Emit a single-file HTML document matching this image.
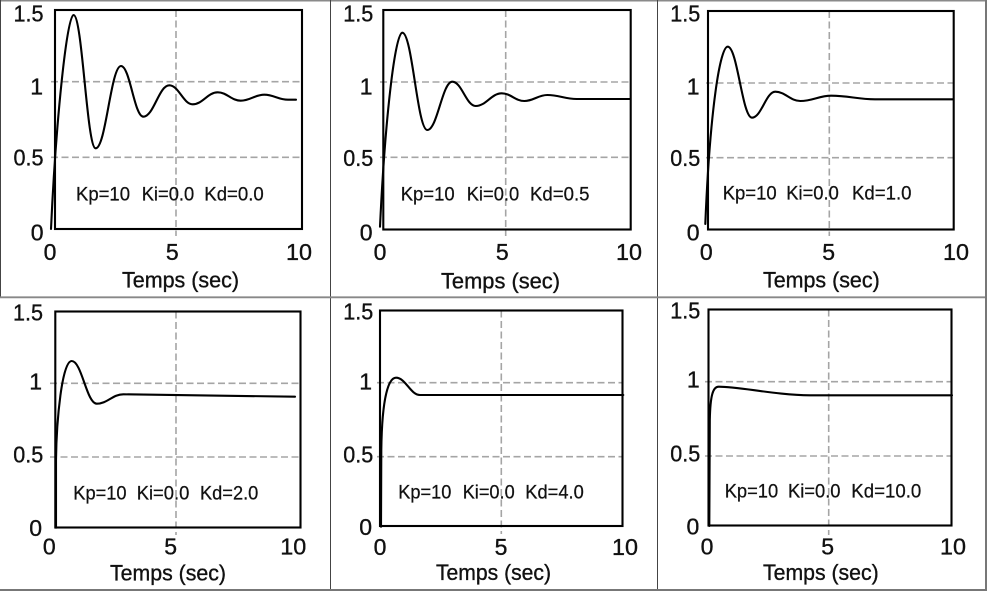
<!DOCTYPE html>
<html>
<head>
<meta charset="utf-8">
<style>
  html, body { margin: 0; padding: 0; background: #fff; }
  svg { display: block; }
  .tk { font-family: "Liberation Sans", "DejaVu Sans", sans-serif; font-size: 23px; fill: #111; stroke: #111; stroke-width: 0.35; }
  .lb { font-family: "Liberation Sans", "DejaVu Sans", sans-serif; font-size: 22px; fill: #111; stroke: #111; stroke-width: 0.35; }
  .an { font-family: "Liberation Sans", "DejaVu Sans", sans-serif; font-size: 19.5px; fill: #111; stroke: #111; stroke-width: 0.25; }
  .grid { stroke: #a5a5a5; stroke-width: 1.6; stroke-dasharray: 7 3.5; fill: none; }
  .box { stroke: #000; stroke-width: 2.1; fill: none; }
  .crv { stroke: #000; stroke-width: 2.1; fill: none; stroke-linejoin: round; stroke-linecap: round; }
</style>
</head>
<body>
<svg width="987" height="591" viewBox="0 0 987 591" xmlns="http://www.w3.org/2000/svg">
  <rect x="0" y="0" width="987" height="591" fill="#fff"/>

  <!-- cell separators -->
  <line x1="0" y1="0.75" x2="987" y2="0.75" stroke="#8a8a8a" stroke-width="1.5"/>
  <line x1="0.5" y1="0" x2="0.5" y2="297" stroke="#444" stroke-width="1"/>
  <line x1="330.5" y1="0" x2="330.5" y2="591" stroke="#444" stroke-width="1"/>
  <line x1="657.5" y1="0" x2="657.5" y2="591" stroke="#444" stroke-width="1"/>
  <line x1="0" y1="297.3" x2="987" y2="297.3" stroke="#888" stroke-width="1.8"/>
  <line x1="0" y1="590" x2="987" y2="590" stroke="#777" stroke-width="2"/>
  <line x1="986" y1="0" x2="986" y2="591" stroke="#777" stroke-width="2"/>

  <!-- ================= Panel 1 ================= -->
  <line class="grid" x1="51" y1="81.7" x2="302" y2="81.7"/>
  <line class="grid" x1="51" y1="157.3" x2="302" y2="157.3"/>
  <line class="grid" x1="176" y1="10" x2="176" y2="236"/>
  <rect class="box" x="55" y="10" width="247" height="219"/>
  <path class="crv" d="M51,229 C56,120 67,15 73.5,15 C82.4,15 86.8,148.3 95.7,148.3 C105.8,148.3 110.9,66 121,66 C129.9,66 134.4,116.7 143.3,116.7 C153.7,116.7 158.9,85.3 169.3,85.3 C178.7,85.3 183.3,104.3 192.7,104.3 C202.7,104.3 207.7,92.3 217.7,92.3 C226.9,92.3 231.5,100.7 240.7,100.7 C250.1,100.7 254.9,94.7 264.3,94.7 C273.8,94.7 278.5,99.7 288,99.7 L296,99.7"/>
  <text class="tk" x="43.5" y="21.7" text-anchor="end" textLength="30" lengthAdjust="spacingAndGlyphs">1.5</text>
  <text class="tk" x="43" y="94.3" text-anchor="end">1</text>
  <text class="tk" x="43.5" y="165.7" text-anchor="end" textLength="30" lengthAdjust="spacingAndGlyphs">0.5</text>
  <text class="tk" x="43.5" y="240.7" text-anchor="end">0</text>
  <text class="tk" x="50" y="260" text-anchor="middle">0</text>
  <text class="tk" x="172.3" y="260" text-anchor="middle">5</text>
  <text class="tk" x="299" y="260" text-anchor="middle" textLength="26" lengthAdjust="spacingAndGlyphs">10</text>
  <text class="lb" x="122" y="287.3" textLength="117" lengthAdjust="spacingAndGlyphs">Temps (sec)</text>
  <text class="an" x="76" y="200.7" textLength="54" lengthAdjust="spacingAndGlyphs">Kp=10</text>
  <text class="an" x="141.7" y="200.7" textLength="52.5" lengthAdjust="spacingAndGlyphs">Ki=0.0</text>
  <text class="an" x="204.3" y="200.7" textLength="59.5" lengthAdjust="spacingAndGlyphs">Kd=0.0</text>

  <!-- ================= Panel 2 ================= -->
  <line class="grid" x1="380" y1="82" x2="631" y2="82"/>
  <line class="grid" x1="380" y1="157.3" x2="631" y2="157.3"/>
  <line class="grid" x1="505.7" y1="10" x2="505.7" y2="236"/>
  <rect class="box" x="383.3" y="10" width="247.4" height="219.5"/>
  <path class="crv" d="M380,226.7 C385,120 395,32.7 402.3,32.7 C412.3,32.7 417.3,130 427.3,130 C437.3,130 442.3,81.7 452.3,81.7 C461.7,81.7 466.3,106 475.7,106 C486.1,106 491.3,93.3 501.7,93.3 C510.7,93.3 515.3,101 524.3,101 C533.5,101 538.1,95 547.3,95 C559.1,95 564.9,99 576.7,99 L630,99"/>
  <text class="tk" x="373.3" y="21.7" text-anchor="end" textLength="30" lengthAdjust="spacingAndGlyphs">1.5</text>
  <text class="tk" x="372.5" y="94.3" text-anchor="end">1</text>
  <text class="tk" x="373.3" y="166" text-anchor="end" textLength="30" lengthAdjust="spacingAndGlyphs">0.5</text>
  <text class="tk" x="372.5" y="240.7" text-anchor="end">0</text>
  <text class="tk" x="380" y="260" text-anchor="middle">0</text>
  <text class="tk" x="502.3" y="260" text-anchor="middle">5</text>
  <text class="tk" x="629" y="260" text-anchor="middle" textLength="26" lengthAdjust="spacingAndGlyphs">10</text>
  <text class="lb" x="441" y="288.3" textLength="119" lengthAdjust="spacingAndGlyphs">Temps (sec)</text>
  <text class="an" x="400.7" y="200.7" textLength="54" lengthAdjust="spacingAndGlyphs">Kp=10</text>
  <text class="an" x="466.7" y="200.7" textLength="52.5" lengthAdjust="spacingAndGlyphs">Ki=0.0</text>
  <text class="an" x="530" y="200.7" textLength="59.5" lengthAdjust="spacingAndGlyphs">Kd=0.5</text>

  <!-- ================= Panel 3 ================= -->
  <line class="grid" x1="706" y1="83" x2="954" y2="83"/>
  <line class="grid" x1="706" y1="157.7" x2="954" y2="157.7"/>
  <line class="grid" x1="829.3" y1="11" x2="829.3" y2="236"/>
  <rect class="box" x="708" y="11" width="245.7" height="218.5"/>
  <path class="crv" d="M705.3,224 C710,110 720,46.7 727.7,46.7 C737.4,46.7 742.3,117.7 752,117.7 C761.3,117.7 766,91.7 775.3,91.7 C785.3,91.7 790.3,101 800.3,101 C812.7,101 818.9,95.7 831.3,95.7 C848.8,95.7 857.5,99.3 875,99.3 L953,99.3"/>
  <text class="tk" x="700.3" y="21.7" text-anchor="end" textLength="30" lengthAdjust="spacingAndGlyphs">1.5</text>
  <text class="tk" x="699.5" y="94.3" text-anchor="end">1</text>
  <text class="tk" x="700.3" y="166" text-anchor="end" textLength="30" lengthAdjust="spacingAndGlyphs">0.5</text>
  <text class="tk" x="699.5" y="240.7" text-anchor="end">0</text>
  <text class="tk" x="706.3" y="260" text-anchor="middle">0</text>
  <text class="tk" x="828.7" y="260" text-anchor="middle">5</text>
  <text class="tk" x="956" y="260" text-anchor="middle" textLength="26" lengthAdjust="spacingAndGlyphs">10</text>
  <text class="lb" x="763" y="287.3" textLength="116.7" lengthAdjust="spacingAndGlyphs">Temps (sec)</text>
  <text class="an" x="722.7" y="199.3" textLength="54" lengthAdjust="spacingAndGlyphs">Kp=10</text>
  <text class="an" x="786.3" y="199.3" textLength="52.5" lengthAdjust="spacingAndGlyphs">Ki=0.0</text>
  <text class="an" x="852" y="199.3" textLength="59.5" lengthAdjust="spacingAndGlyphs">Kd=1.0</text>

  <!-- ================= Panel 4 ================= -->
  <line class="grid" x1="50" y1="383.3" x2="301" y2="383.3"/>
  <line class="grid" x1="50" y1="457" x2="301" y2="457"/>
  <line class="grid" x1="176" y1="311.5" x2="176" y2="535"/>
  <rect class="box" x="55.3" y="311.5" width="245.2" height="216"/>
  <path class="crv" d="M56,527.7 L56,460 C56.5,420 62,361 71.7,361 C81.7,361 86.7,403.7 96.7,403.7 C107.3,403.7 112.7,394.3 123.3,394.3 L295,396.7"/>
  <text class="tk" x="43" y="320.3" text-anchor="end" textLength="30" lengthAdjust="spacingAndGlyphs">1.5</text>
  <text class="tk" x="42" y="389.3" text-anchor="end">1</text>
  <text class="tk" x="43.3" y="462.7" text-anchor="end" textLength="30" lengthAdjust="spacingAndGlyphs">0.5</text>
  <text class="tk" x="42" y="536" text-anchor="end">0</text>
  <text class="tk" x="49.3" y="554.3" text-anchor="middle">0</text>
  <text class="tk" x="170.7" y="554.3" text-anchor="middle">5</text>
  <text class="tk" x="293.3" y="554.3" text-anchor="middle" textLength="26" lengthAdjust="spacingAndGlyphs">10</text>
  <text class="lb" x="110" y="580.3" textLength="116" lengthAdjust="spacingAndGlyphs">Temps (sec)</text>
  <text class="an" x="73.3" y="499.3" textLength="53.3" lengthAdjust="spacingAndGlyphs">Kp=10</text>
  <text class="an" x="136.7" y="499.3" textLength="52.6" lengthAdjust="spacingAndGlyphs">Ki=0.0</text>
  <text class="an" x="200" y="499.3" textLength="58.3" lengthAdjust="spacingAndGlyphs">Kd=2.0</text>

  <!-- ================= Panel 5 ================= -->
  <line class="grid" x1="377" y1="382.7" x2="623" y2="382.7"/>
  <line class="grid" x1="377" y1="456.7" x2="623" y2="456.7"/>
  <line class="grid" x1="501.3" y1="310.5" x2="501.3" y2="534"/>
  <rect class="box" x="380" y="310.5" width="242.5" height="215.5"/>
  <path class="crv" d="M381,526.7 L381.3,450 C382,395 389,377.7 396,377.7 C405.6,377.7 410.4,395 420,395 L623.3,395"/>
  <text class="tk" x="373.3" y="319.3" text-anchor="end" textLength="30" lengthAdjust="spacingAndGlyphs">1.5</text>
  <text class="tk" x="372" y="389.3" text-anchor="end">1</text>
  <text class="tk" x="373.3" y="462.7" text-anchor="end" textLength="30" lengthAdjust="spacingAndGlyphs">0.5</text>
  <text class="tk" x="372" y="535" text-anchor="end">0</text>
  <text class="tk" x="380" y="555" text-anchor="middle">0</text>
  <text class="tk" x="501" y="555" text-anchor="middle">5</text>
  <text class="tk" x="625" y="555" text-anchor="middle" textLength="26" lengthAdjust="spacingAndGlyphs">10</text>
  <text class="lb" x="436" y="580" textLength="115" lengthAdjust="spacingAndGlyphs">Temps (sec)</text>
  <text class="an" x="398.3" y="498.3" textLength="53" lengthAdjust="spacingAndGlyphs">Kp=10</text>
  <text class="an" x="462.7" y="498.3" textLength="52" lengthAdjust="spacingAndGlyphs">Ki=0.0</text>
  <text class="an" x="525.3" y="498.3" textLength="58.5" lengthAdjust="spacingAndGlyphs">Kd=4.0</text>

  <!-- ================= Panel 6 ================= -->
  <line class="grid" x1="705" y1="381.7" x2="952" y2="381.7"/>
  <line class="grid" x1="705" y1="456" x2="952" y2="456"/>
  <line class="grid" x1="828.7" y1="309.5" x2="828.7" y2="535"/>
  <rect class="box" x="708.5" y="309.5" width="243" height="216"/>
  <path class="crv" d="M709.3,526 L709.8,420 C710.3,395 713,386.7 718.7,386.7 C740,386.7 775,395 810,395.3 L952,395.3"/>
  <text class="tk" x="700.3" y="318.3" text-anchor="end" textLength="30" lengthAdjust="spacingAndGlyphs">1.5</text>
  <text class="tk" x="699.7" y="387.7" text-anchor="end">1</text>
  <text class="tk" x="700.3" y="461.7" text-anchor="end" textLength="30" lengthAdjust="spacingAndGlyphs">0.5</text>
  <text class="tk" x="699.3" y="534.3" text-anchor="end">0</text>
  <text class="tk" x="707" y="554.3" text-anchor="middle">0</text>
  <text class="tk" x="827.7" y="554.3" text-anchor="middle">5</text>
  <text class="tk" x="953" y="554.3" text-anchor="middle" textLength="26" lengthAdjust="spacingAndGlyphs">10</text>
  <text class="lb" x="763" y="580" textLength="115.7" lengthAdjust="spacingAndGlyphs">Temps (sec)</text>
  <text class="an" x="724.7" y="497.7" textLength="53.5" lengthAdjust="spacingAndGlyphs">Kp=10</text>
  <text class="an" x="788" y="497.7" textLength="52.5" lengthAdjust="spacingAndGlyphs">Ki=0.0</text>
  <text class="an" x="851.3" y="497.7" textLength="70" lengthAdjust="spacingAndGlyphs">Kd=10.0</text>
</svg>
</body>
</html>
